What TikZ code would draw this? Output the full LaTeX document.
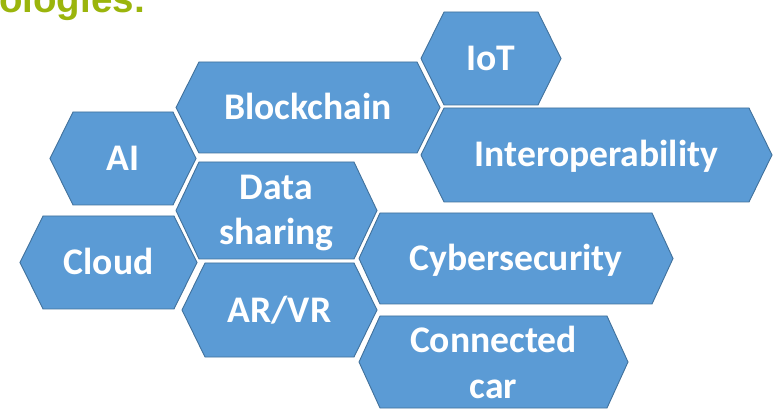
\documentclass[tikz,border=0pt]{standalone}
\usepackage{fontspec}
\setmainfont{Carlito}
\newfontfamily\titlefont{Liberation Sans}
\definecolor{hexfill}{RGB}{91,155,213}
\definecolor{hexline}{RGB}{65,113,156}
\definecolor{titlegreen}{RGB}{155,181,12}
\newcommand{\hexshape}[6]{% name, xl, xr, yt, yb, indent
  \draw[hexa] (#2,{(#4+#5)/2}) -- (#2+#6,#4) -- (#3-#6,#4) -- (#3,{(#4+#5)/2})
    -- (#3-#6,#5) -- (#2+#6,#5) -- cycle;
  \coordinate (#1) at ({(#2+#3)/2},{(#4+#5)/2});
}
\tikzset{
  hexa/.style={fill=hexfill, draw=hexline, line width=0.9pt, line join=miter},
  lbl/.style={text=white, font=\fontsize{37.6}{45}\selectfont\bfseries, inner sep=0pt, anchor=base},
  ttl/.style={text=titlegreen, font=\titlefont\fontsize{38.5}{42}\selectfont\bfseries, inner sep=0pt, anchor=base west}
}
\begin{document}
\begin{tikzpicture}[x=1pt,y=-1pt]
\useasboundingbox (0,0) rectangle (781,419);
\clip (0,0) rectangle (781,419);
\node[ttl] (title) at (-1,12.5) {ologies:};
\hexshape{hAI}{50}{196}{112}{205}{23}
\hexshape{hBC}{176}{440}{62}{153}{23}
\hexshape{hIoT}{421}{561}{12}{105}{23}
\hexshape{hIO}{421}{772}{108}{202}{23}
\hexshape{hDS}{176}{377}{162}{259}{23}
\hexshape{hCL}{20}{197}{216}{309}{23}
\hexshape{hAR}{182}{377}{263}{357}{23}
\hexshape{hCS}{359}{673}{213}{304}{21}
\hexshape{hCC}{359}{628}{316}{408}{21}
\node[lbl] (tAI) at (123,170.5) {AI};
\node[lbl] (tBC) at (308,119.5) {Blockchain};
\node[lbl] (tIoT) at (491,70.5) {IoT};
\node[lbl] (tIO) at (596.5,167) {Interoperability};
\node[lbl] (tDS1) at (276.5,200) {Data};
\node[lbl] (tDS2) at (276.5,245) {sharing};
\node[lbl] (tCL) at (108.5,275) {Cloud};
\node[lbl] (tAR) at (279.5,322.5) {AR/VR};
\node[lbl] (tCS) at (516,271) {Cybersecurity};
\node[lbl] (tCC1) at (493.5,352) {Connected};
\node[lbl] (tCC2) at (493.5,398) {car};
\end{tikzpicture}
\end{document}
